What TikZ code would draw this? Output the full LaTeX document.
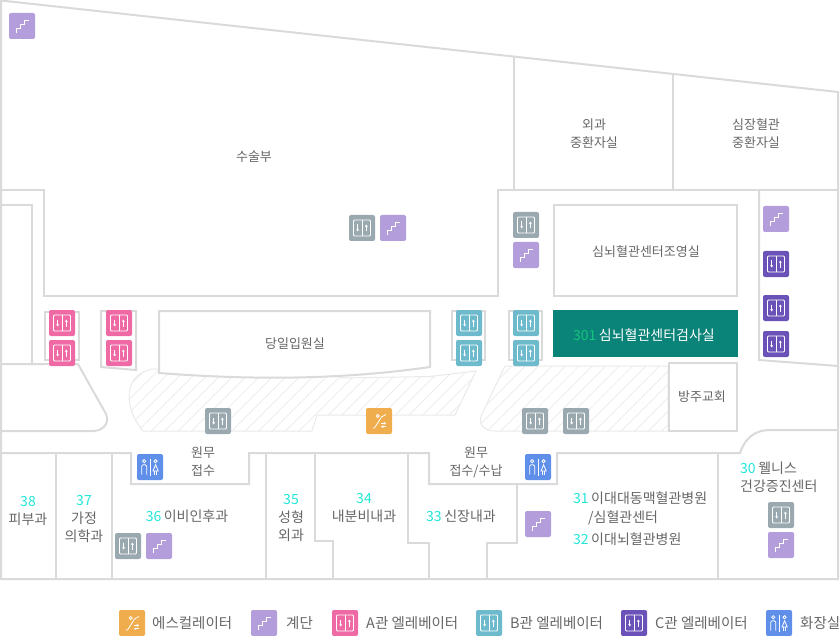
\documentclass[tikz,border=0pt]{standalone}
\usepackage{fontspec}
\setmainfont{Noto Sans CJK KR}
\usetikzlibrary{patterns.meta}
\usetikzlibrary{arrows.meta}
\definecolor{wallgrey}{HTML}{DADADA}
\definecolor{hatchgrey}{HTML}{E9E9E9}
\definecolor{labelgrey}{HTML}{666666}
\definecolor{numcyan}{HTML}{22E6D8}
\definecolor{numgreen}{HTML}{16C47F}
\definecolor{roomteal}{HTML}{0A8378}
\definecolor{liftgrey}{HTML}{9AA9B0}
\definecolor{liftpink}{HTML}{EF6AA5}
\definecolor{liftblue}{HTML}{6DBACD}
\definecolor{liftviolet}{HTML}{6A52B8}
\definecolor{stairlilac}{HTML}{B39DDB}
\definecolor{escorange}{HTML}{F0AD4E}
\definecolor{toiletblue}{HTML}{5F8FE8}
\tikzset{
    wall/.style={draw=wallgrey,line width=2pt},
    hatched/.style={draw=hatchgrey,line width=1pt,pattern={Lines[angle=45,distance=9.5pt,line width=.7pt]},pattern color=hatchgrey},
    iconbox/.style={rectangle,rounded corners=2pt,minimum size=26pt,inner sep=0pt},
    iconline/.style={draw=white,line width=.8pt},
    iconarrow/.style={draw=white,line width=.7pt,-{Stealth[length=2.4pt,width=3pt]}},
    room/.style={text=labelgrey,font=\fontsize{13}{18}\selectfont,align=center,inner sep=0pt,yshift=-1pt},
    dept/.style={text=labelgrey,font=\fontsize{14}{18}\selectfont,align=center,inner sep=0pt,yshift=-1.5pt},
    legend/.style={text=labelgrey,font=\fontsize{14.5}{18}\selectfont,anchor=west,inner sep=0pt}
}
\newcommand{\num}[1]{\textcolor{numcyan}{#1}}
\newcommand{\lifticon}[3]{
    \node[iconbox,fill=#3] (#1) at (#2) {};
    \begin{scope}[shift={(#1.center)}]
        \draw[iconline,rounded corners=1pt] (-8.5,-8) rectangle (8.5,8);
        \draw[iconline] (0,-8) -- (0,8);
        \draw[iconarrow] (-4.3,-3.5) -- (-4.3,3.5);
        \draw[iconarrow] (4.3,3.5) -- (4.3,-3.5);
    \end{scope}
}
\newcommand{\stairicon}[2]{
    \node[iconbox,fill=stairlilac] (#1) at (#2) {};
    \begin{scope}[shift={(#1.center)}]
        \draw[iconline] (-6,7) -- (-6,2) -- (-1.3,2) -- (-1.3,-2) -- (2,-2) -- (2,-6) -- (7,-6);
    \end{scope}
}
\newcommand{\toileticon}[2]{
    \node[iconbox,fill=toiletblue] (#1) at (#2) {};
    \begin{scope}[shift={(#1.center)}]
        \draw[iconline] (-5.8,-5.8) circle (1.6);
        \draw[iconline] (5.6,-5.8) circle (1.6);
        \draw[iconline] (0,-8.5) -- (0,8.5);
        \draw[iconline,rounded corners=1.5pt] (-8.3,7.5) -- (-8.3,-2.3) -- (-3.3,-2.3) -- (-3.3,7.5);
        \draw[iconline] (5.6,-2.3) -- (3,4) -- (8.2,4) -- cycle;
        \draw[iconline] (4.4,4) -- (4.4,7.5) (6.8,4) -- (6.8,7.5);
    \end{scope}
}
\newcommand{\escicon}[2]{
    \node[iconbox,fill=escorange] (#1) at (#2) {};
    \begin{scope}[shift={(#1.center)}]
        \draw[iconline] (-6.5,7) -- (-4.5,7) -- (2.5,-4) -- (7,-6.5);
        \draw[iconline] (-1.2,-5) circle (1.6);
        \draw[iconarrow] (2,2.3) -- (7,2.3);
        \draw[iconarrow] (7,5.7) -- (2,5.7);
    \end{scope}
}
\begin{document}
\begin{tikzpicture}[x=1pt,y=-1pt]
    \useasboundingbox (0,0) rectangle (840,636);
    % hatched lobby
    \path[hatched] (476,371) -- (430,376.5) -- (340,378) -- (340,360) -- (165,360) -- (159,369) -- (152,369) .. controls (136,372) and (129,384) .. (129,396) .. controls (129,410) and (135,421) .. (143,431) -- (312,431) -- (317,415) -- (455,415) -- cycle;
    \path[hatched] (505,366) -- (668,366) -- (668,431) -- (495,431) .. controls (485,431) and (478,425) .. (481,416) -- cycle;
    % outer walls
    \draw[wall] (1,579) -- (1,0.5) -- (838,92) -- (838,579) -- cycle;
    \draw[wall] (514,57) -- (514,190);
    \draw[wall] (673,74) -- (673,190);
    % upper rooms
    \draw[wall] (1,190) -- (44,190) -- (44,296) -- (498,296) -- (498,190) -- (838,190);
    \draw[wall] (1,205) -- (32,205) -- (32,364);
    \draw[wall] (1,364) -- (78,364) -- (106,414) .. controls (110,423) and (103,431) .. (93,431) -- (1,431);
    \draw[wall] (45,312) rectangle (79,360);
    \draw[wall] (101,311) -- (136,311) -- (136,370) -- (101,367) -- cycle;
    \draw[wall] (452,311) rectangle (485,360);
    \draw[wall] (509,311) rectangle (542,360);
    \draw[wall,fill=white] (159,311) -- (430,311) -- (430,367) .. controls (340,380) and (250,380) .. (159,373) -- cycle;
    \draw[wall] (554,205) rectangle (737,296);
    \draw[wall] (759,190) -- (759,360) -- (838,366);
    \draw[wall,fill=white] (669,363) rectangle (737,431);
    \fill[roomteal] (553,310) rectangle (738,357);
    % lower rooms
    \draw[wall] (1,453) -- (131,453) -- (131,484) -- (249,484) -- (249,453) -- (429,453) -- (429,484) -- (557,484) -- (557,453) -- (740,453) .. controls (745,438) and (755,430) .. (770,430) -- (838,430);
    \draw[wall] (56,453) -- (56,579);
    \draw[wall] (112,453) -- (112,579);
    \draw[wall] (266,453) -- (266,579);
    \draw[wall] (315,453) -- (315,541) -- (333,541) -- (333,579);
    \draw[wall] (408,453) -- (408,543) -- (429,543) -- (429,579);
    \draw[wall] (517,484) -- (517,543) -- (487,543) -- (487,579);
    \draw[wall] (718,453) -- (718,579);
    % icons on the plan
    \foreach \n/\x/\y in {greya/362/228,greyb/526/225,greyc/218/421,greyd/535/421,greye/576/421,greyf/128/546,greyg/781/515}{
        \lifticon{\n}{\x,\y}{liftgrey}
    }
    \foreach \n/\x/\y in {pinka/62/323,pinkb/62/353,pinkc/119/323,pinkd/119/353}{
        \lifticon{\n}{\x,\y}{liftpink}
    }
    \foreach \n/\x/\y in {bluea/469/323,blueb/469/353,bluec/526/323,blued/526/353}{
        \lifticon{\n}{\x,\y}{liftblue}
    }
    \foreach \n/\x/\y in {violeta/776/264,violetb/776/308,violetc/776/344}{
        \lifticon{\n}{\x,\y}{liftviolet}
    }
    \foreach \n/\x/\y in {staira/22/26,stairb/393/228,stairc/526/255,staird/776/219,staire/159/546,stairf/538/524,stairg/781/545}{
        \stairicon{\n}{\x,\y}
    }
    \escicon{esca}{379,421}
    \toileticon{toileta}{150,467}
    \toileticon{toiletb}{538,467}
    % room labels
    \node[room] (surgery) at (254,156) {수술부};
    \node[room] (surgicalicu) at (594,133) {외과\\중환자실};
    \node[room] (cardiacicu) at (756,133) {심장혈관\\중환자실};
    \node[room] (angio) at (646,251) {심뇌혈관센터조영실};
    \node[room] (dayward) at (295,343) {당일입원실};
    \node[room] (chapel) at (702,396) {방주교회};
    \node[room] (desk) at (203,461) {원무\\접수};
    \node[room] (deskpay) at (476,461) {원무\\접수/수납};
    \node[dept,text=white] (examroom) at (644,334) {\textcolor{numgreen}{301}\hspace{2.5pt}심뇌혈관센터검사실};
    \node[dept] (derma) at (28,509) {\num{38}\\피부과};
    \node[dept] (family) at (84,517) {\num{37}\\가정\\의학과};
    \node[dept] (ent) at (187,515) {\num{36}\hspace{2.5pt}이비인후과};
    \node[dept] (plastic) at (291,516) {\num{35}\\성형\\외과};
    \node[dept] (endo) at (364,506) {\num{34}\\내분비내과};
    \node[dept] (cardio) at (461,515) {\num{33}\hspace{2.5pt}신장내과};
    \node[dept,anchor=west] (aorta) at (573,497) {\num{31}\hspace{2.5pt}이대대동맥혈관병원};
    \node[dept,anchor=west] (heart) at (588,516) {/심혈관센터};
    \node[dept,anchor=west] (brain) at (573,538) {\num{32}\hspace{2.5pt}이대뇌혈관병원};
    \node[dept,anchor=west,align=left] (wellness) at (740,476) {\num{30}\hspace{2.5pt}웰니스\\건강증진센터};
    % legend
    \escicon{legesc}{132,623}
    \stairicon{legstair}{264,623}
    \lifticon{legpink}{345,623}{liftpink}
    \lifticon{legblue}{489,623}{liftblue}
    \lifticon{legviolet}{634,623}{liftviolet}
    \toileticon{legtoilet}{779,623}
    \node[legend] (textesc) at (152,623) {에스컬레이터};
    \node[legend] (textstair) at (286,623) {계단};
    \node[legend] (textpink) at (366,623) {A관 엘레베이터};
    \node[legend] (textblue) at (510,623) {B관 엘레베이터};
    \node[legend] (textviolet) at (655,623) {C관 엘레베이터};
    \node[legend] (texttoilet) at (800,623) {화장실};
\end{tikzpicture}
\end{document}
